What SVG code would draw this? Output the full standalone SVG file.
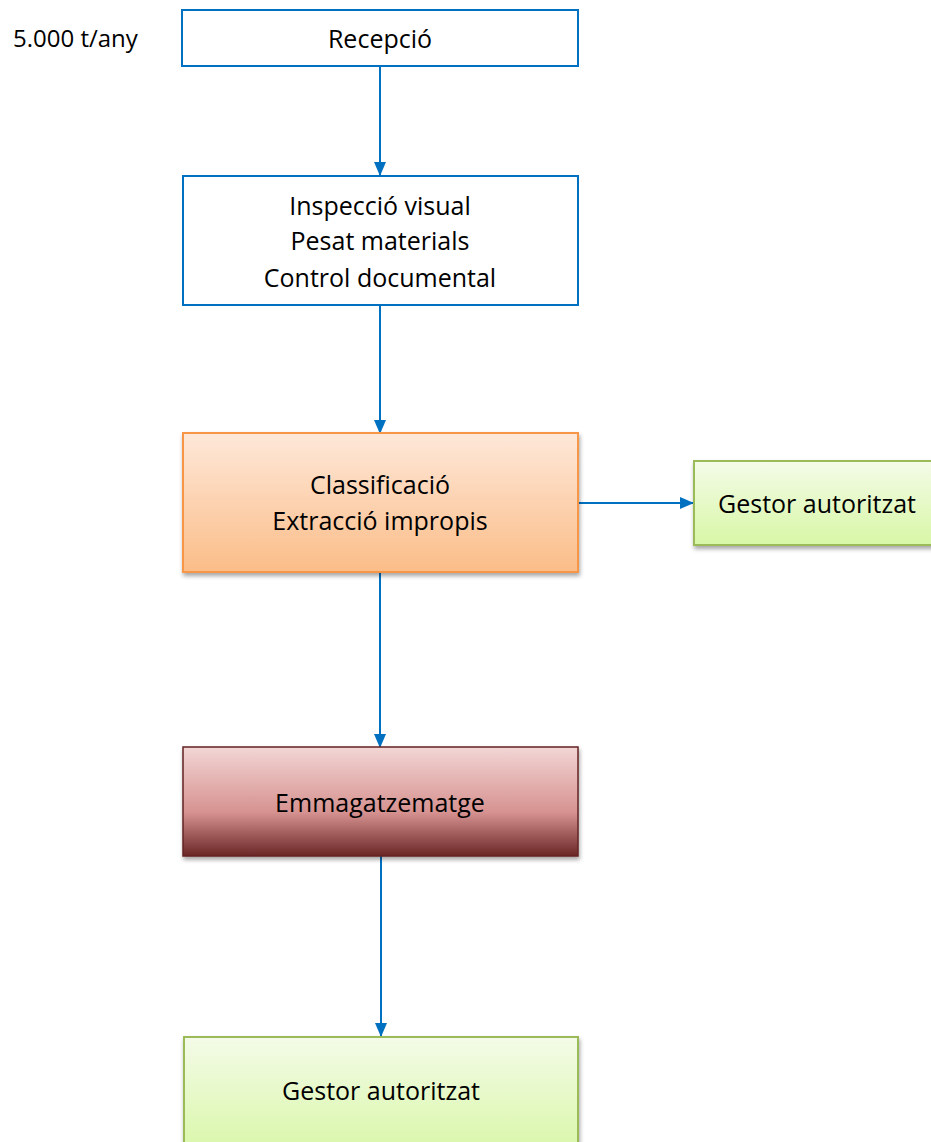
<svg xmlns="http://www.w3.org/2000/svg" width="931" height="1142" viewBox="0 0 931 1142">
<style>
text{font-family:"Open Sans","Noto Sans","Liberation Sans",sans-serif;font-size:25px;fill:#000;text-anchor:middle}
.plain{fill:#fff;stroke:#0070c0;stroke-width:2}
.conn{stroke:#0070c0;stroke-width:2;fill:none}
</style>
<defs>
<marker id="ah" viewBox="0 0 14 12" refX="13" refY="6" markerWidth="14" markerHeight="12" orient="auto" markerUnits="userSpaceOnUse">
<path d="M0,0L14,6L0,12z" fill="#0070c0"/>
</marker>
<linearGradient id="gOr" x1="0" y1="0" x2="0" y2="1"><stop offset="0" stop-color="#fee8d9"/><stop offset="1" stop-color="#fbbd88"/></linearGradient>
<linearGradient id="gRd" x1="0" y1="0" x2="0" y2="1"><stop offset="0" stop-color="#f2d6d5"/><stop offset="0.6" stop-color="#d69290"/><stop offset="1" stop-color="#6a2626"/></linearGradient>
<linearGradient id="gGr" x1="0" y1="0" x2="0" y2="1"><stop offset="0" stop-color="#f4fbe8"/><stop offset="1" stop-color="#d8f7a6"/></linearGradient>
<filter id="sh" x="-10%" y="-10%" width="120%" height="130%"><feDropShadow dx="1" dy="3" stdDeviation="2" flood-color="#000" flood-opacity="0.35"/></filter>
</defs>
<text x="13" y="47" style="font-size:24px;text-anchor:start">5.000 t/any</text>
<g id="connectors">
<line class="conn" x1="380" y1="66" x2="380" y2="175" marker-end="url(#ah)"/>
<line class="conn" x1="380" y1="305" x2="380" y2="433" marker-end="url(#ah)"/>
<line class="conn" x1="578" y1="503" x2="693" y2="503" marker-end="url(#ah)"/>
<line class="conn" x1="380" y1="572" x2="380" y2="747" marker-end="url(#ah)"/>
<line class="conn" x1="381" y1="856" x2="381" y2="1036" marker-end="url(#ah)"/>
</g>
<g id="recepcio">
<rect class="plain" x="182" y="10" width="396" height="56"/>
<text x="380" y="48">Recepció</text>
</g>
<g id="inspeccio">
<rect class="plain" x="183" y="176" width="395" height="129"/>
<text x="380" y="215">Inspecció visual</text>
<text x="380" y="250">Pesat materials</text>
<text x="380" y="287">Control documental</text>
</g>
<g id="classificacio">
<rect x="183" y="433" width="395" height="139" fill="url(#gOr)" stroke="#f79646" stroke-width="2" filter="url(#sh)"/>
<text x="380" y="494">Classificació</text>
<text x="380" y="530">Extracció impropis</text>
</g>
<g id="gestor1">
<rect x="694" y="461" width="240" height="84" fill="url(#gGr)" stroke="#9bbb59" stroke-width="2" filter="url(#sh)"/>
<text x="817" y="513">Gestor autoritzat</text>
</g>
<g id="emmagatzematge">
<rect x="183" y="747" width="395" height="109" fill="url(#gRd)" stroke="#632523" stroke-width="1.5" filter="url(#sh)"/>
<text x="380" y="812">Emmagatzematge</text>
</g>
<g id="gestor2">
<rect x="184" y="1037" width="394" height="120" fill="url(#gGr)" stroke="#9bbb59" stroke-width="2" filter="url(#sh)"/>
<text x="381" y="1100">Gestor autoritzat</text>
</g>
</svg>
